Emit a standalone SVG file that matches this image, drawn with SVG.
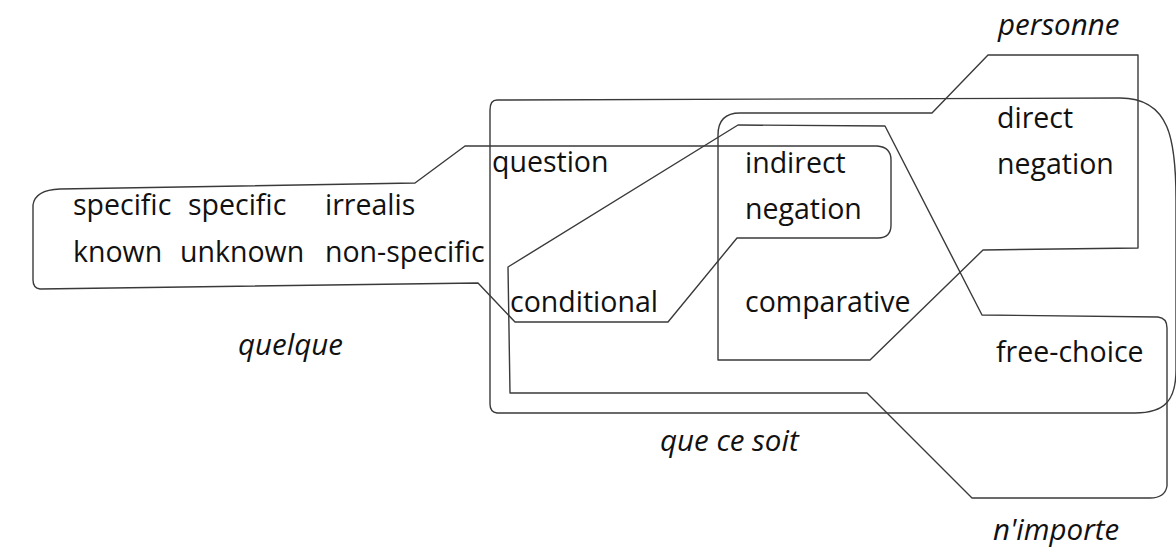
<svg xmlns="http://www.w3.org/2000/svg" width="1176" height="549" viewBox="0 0 1176 549">
<style>
.b{fill:none;stroke:#3a3a3a;stroke-width:1.4;stroke-linejoin:round;stroke-linecap:round}
.t{font-family:"Open Sans","Liberation Sans",sans-serif;font-size:28.5px;fill:#111}
.l{font-family:"Open Sans","Liberation Sans",sans-serif;font-size:29.5px;font-style:italic;fill:#111}
</style>
<rect width="1176" height="549" fill="#fff"/>
<g id="connectors">
<path id="quelque-boundary" class="b" d="M60,189 L415,183 L465,146 L877,146 Q891,147 891,160 L891,225 Q891,238 878,238 L737,238 L668,322 L515,322 L478,283 L40,289 Q33,288 33,280 L33,205 Q35,190 60,189 Z"/>
<path id="quecesoit-boundary" class="b" d="M497,100 L1120,98 C1170,98 1176,140 1176,200 L1176,370 C1176,400 1165,413 1135,413 L497,413 Q490,412 490,404 L490,110 Q490,100 497,100 Z"/>
<path id="personne-boundary" class="b" d="M988,55 L1138,55 L1138,248 L983,250 L870,360 L718,360 L718,135 Q718,113 740,113 L932,113 Z"/>
<path id="nimporte-boundary" class="b" d="M508,267 L738,125 L885,126 L982,315 L1158,317 Q1167,318 1167,328 L1167,486 Q1165,498 1150,498 L972,498 L867,393 L510,393 Z"/>
</g>
<g id="node-specific-known"><text class="t" x="73" y="215">specific</text><text class="t" x="73" y="262">known</text></g>
<g id="node-specific-unknown"><text class="t" x="188" y="215">specific</text><text class="t" x="180" y="262">unknown</text></g>
<g id="node-irrealis"><text class="t" x="325" y="215">irrealis</text><text class="t" x="325" y="262">non-specific</text></g>
<g id="node-question"><text class="t" x="492" y="172">question</text></g>
<g id="node-indirect-negation"><text class="t" x="745" y="173">indirect</text><text class="t" x="745" y="219">negation</text></g>
<g id="node-direct-negation"><text class="t" x="997" y="128">direct</text><text class="t" x="997" y="174">negation</text></g>
<g id="node-conditional"><text class="t" x="510" y="312">conditional</text></g>
<g id="node-comparative"><text class="t" x="745" y="312">comparative</text></g>
<g id="node-free-choice"><text class="t" x="996" y="362">free-choice</text></g>
<g id="labels">
<text class="l" x="998" y="35">personne</text>
<text class="l" x="238" y="355">quelque</text>
<text class="l" x="660" y="451">que ce soit</text>
<text class="l" x="993" y="540">n'importe</text>
</g>
</svg>
